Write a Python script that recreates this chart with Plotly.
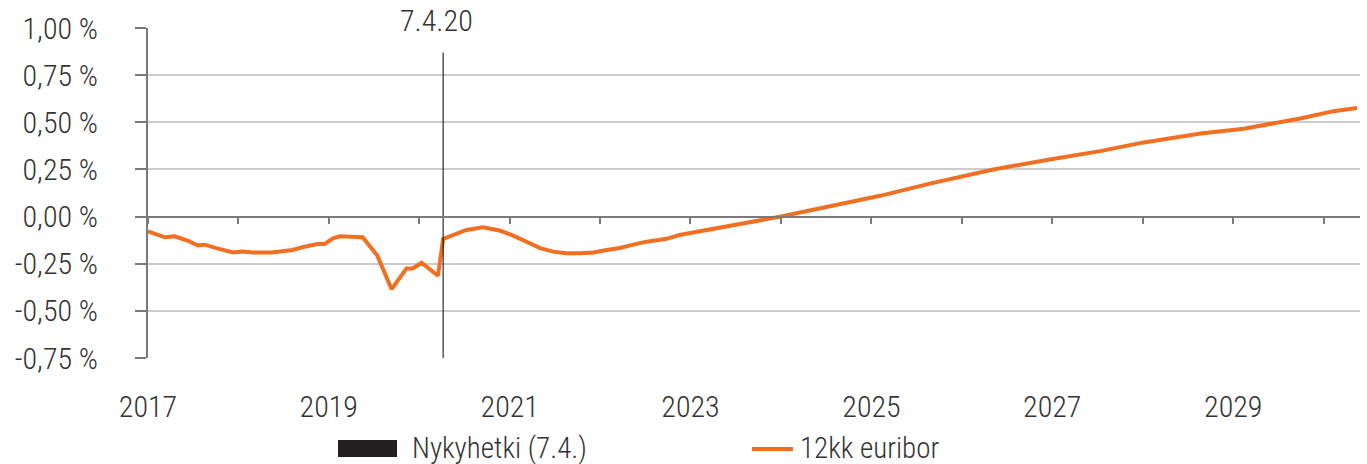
import plotly.graph_objects as go

# ---- data ----
dates = [
    "2017-01-01", "2017-01-21", "2017-03-10", "2017-04-18", "2017-06-10", "2017-07-20",
    "2017-08-18", "2017-10-04", "2017-11-19", "2017-12-10", "2018-01-19", "2018-03-01",
    "2018-05-15", "2018-08-08", "2018-09-16", "2018-11-16", "2018-12-15", "2019-01-18",
    "2019-02-15", "2019-05-18", "2019-07-16", "2019-09-12", "2019-11-11", "2019-12-06",
    "2020-01-11", "2020-02-13", "2020-03-17", "2020-04-07", "2020-05-15", "2020-07-10",
    "2020-09-15", "2020-11-21", "2021-01-15", "2021-03-10", "2021-05-04", "2021-06-25",
    "2021-08-18", "2021-10-12", "2021-12-05", "2022-01-27", "2022-03-22", "2022-05-15",
    "2022-07-08", "2022-09-27", "2022-11-17", "2024-01-01", "2025-02-05", "2025-08-25",
    "2026-05-08", "2026-12-10", "2027-07-13", "2027-12-31", "2028-04-09", "2028-08-22",
    "2029-02-13", "2029-05-31", "2029-09-28", "2030-02-10", "2030-05-16",
]
euribor_12m = [
    -0.078, -0.086, -0.110, -0.105, -0.128, -0.152,
    -0.149, -0.167, -0.186, -0.190, -0.185, -0.190,
    -0.190, -0.177, -0.163, -0.146, -0.146, -0.115,
    -0.105, -0.110, -0.207, -0.385, -0.275, -0.275,
    -0.245, -0.282, -0.314, -0.119, -0.101, -0.071,
    -0.057, -0.074, -0.101, -0.133, -0.167, -0.186,
    -0.195, -0.195, -0.190, -0.177, -0.167, -0.149,
    -0.133, -0.118, -0.098, 0.000, 0.110, 0.175,
    0.250, 0.300, 0.347, 0.392, 0.413, 0.440,
    0.466, 0.489, 0.520, 0.559, 0.576,
]
news_date = "2020-04-07"
news_label = "7.4.20"
news_line_y = [0.87, -0.75]
y_ticks = [1.0, 0.75, 0.5, 0.25, 0.0, -0.25, -0.5, -0.75]
y_tick_labels = ["1,00 %", "0,75 %", "0,50 %", "0,25 %", "0,00 %", "-0,25 %", "-0,50 %", "-0,75 %"]
x_tick_years = ["2017", "2019", "2021", "2023", "2025", "2027", "2029"]
series_name = "12kk euribor"
news_name = "Nykyhetki (7.4.)"

ORANGE = "#F26F21"
FONT = "Liberation Sans Narrow, Roboto Condensed, Roboto, sans-serif"
TXT = "#333333"
AX = "#7a7a7a"
FS = 30
FW = 300

fig = go.Figure()
fig.add_trace(go.Scatter(
    x=dates, y=euribor_12m, mode="lines", name=series_name,
    line=dict(color=ORANGE, width=4), showlegend=False, xaxis="x", yaxis="y",
))
fig.add_trace(go.Scatter(
    x=[news_date, news_date], y=news_line_y, mode="lines", name=news_name,
    line=dict(color="#000000", width=1), showlegend=False, xaxis="x2", yaxis="y",
))

x_range = ["2017-01-01", "2030-05-28"]
y_range = [-0.75, 1.0]
zero_pos = (0 - y_range[0]) / (y_range[1] - y_range[0])

tf = dict(family=FONT, size=FS, color=TXT, weight=FW)
lf = dict(family=FONT, size=29, color=TXT, weight=FW)

fig.update_layout(
    width=1367, height=464,
    margin=dict(l=148, r=7, t=28, b=106),
    paper_bgcolor="white", plot_bgcolor="white",
    font=tf,
    showlegend=False,
    xaxis=dict(
        range=x_range, type="date",
        tickvals=[y + "-01-01" for y in x_tick_years], ticktext=x_tick_years,
        showgrid=False, zeroline=False, showline=False, ticks="",
        ticklabelstandoff=28, tickfont=tf,
    ),
    xaxis2=dict(
        range=x_range, type="date", overlaying="x", anchor="free", position=zero_pos,
        showgrid=False, zeroline=False, showline=True, linecolor=AX, linewidth=2,
        ticks="outside", ticklen=6, tickwidth=2, tickcolor=AX,
        dtick="M12", tick0="2017-01-01", showticklabels=False,
    ),
    yaxis=dict(
        range=y_range, tickvals=y_ticks, ticktext=y_tick_labels,
        showgrid=True, gridcolor="#cccccc", gridwidth=2, zeroline=False,
        showline=True, linecolor=AX, linewidth=2,
        ticks="outside", ticklen=11, tickwidth=2, tickcolor=AX,
        ticklabelstandoff=31, tickfont=tf,
    ),
)

fig.add_annotation(
    x=news_date, y=1.0, xref="x2", yref="paper", text=news_label, showarrow=False,
    xanchor="center", yanchor="middle", yshift=8, xshift=-7, font=tf,
)

# manual legend (below the plot)
def px_x(p):
    return (p - 148) / 1212

def px_y(p):
    return (358 - p) / 330

fig.add_shape(type="rect", xref="paper", yref="paper",
              x0=px_x(338), x1=px_x(397), y0=px_y(457), y1=px_y(440),
              fillcolor="#231f20", line=dict(width=0))
fig.add_annotation(x=px_x(410), y=px_y(448), xref="paper", yref="paper",
                   text=news_name, showarrow=False, xanchor="left", yanchor="middle",
                   font=lf)
fig.add_shape(type="line", xref="paper", yref="paper",
              x0=px_x(752), x1=px_x(793), y0=px_y(449), y1=px_y(449),
              line=dict(color=ORANGE, width=4))
fig.add_annotation(x=px_x(798), y=px_y(448), xref="paper", yref="paper",
                   text=series_name, showarrow=False, xanchor="left", yanchor="middle",
                   font=lf)

fig.write_html("out.html")
